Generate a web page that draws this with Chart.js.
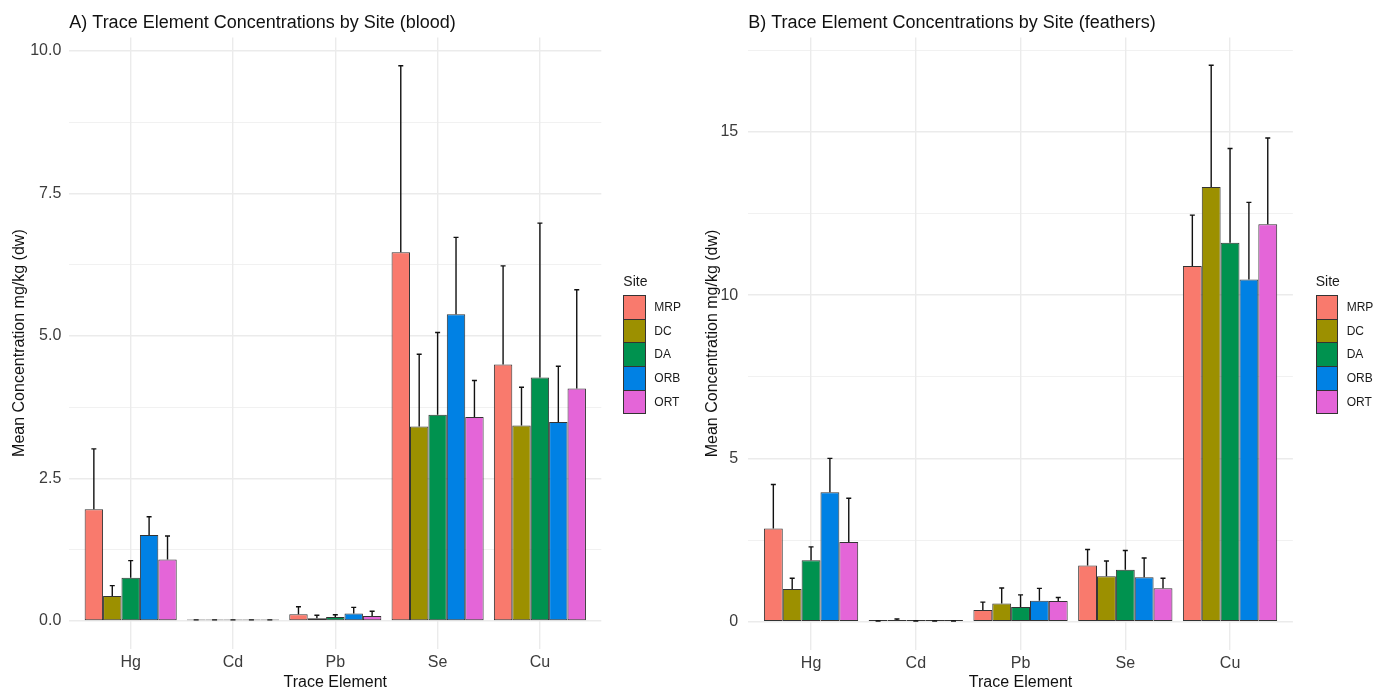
<!DOCTYPE html>
<html>
<head>
<meta charset="utf-8">
<script src="https://cdn.jsdelivr.net/npm/chart.js@4.4.1/dist/chart.umd.min.js"></script>
<style>
  html, body { margin: 0; padding: 0; background: #fff; }
  body { width: 1385px; height: 691px; position: relative; overflow: hidden; font-family: "Liberation Sans", Arial, sans-serif; }
  .panel { position: absolute; top: 0; height: 691px; }
  .legend-title { position: absolute; font-size: 14px; color: #1a1a1a; line-height: 16px; }
  .swatch { position: absolute; box-sizing: border-box; border: 1px solid #333; }
  .legend-label { position: absolute; font-size: 12px; color: #1a1a1a; line-height: 14px; }
</style>
</head>
<body>
<div class="panel" style="left:0;width:692px"><canvas id="blood"></canvas></div>
<div class="panel" style="left:692px;width:693px"><canvas id="feathers"></canvas></div>
<div id="legends"></div>
<script>
// ---- data ----
const elements = ["Hg", "Cd", "Pb", "Se", "Cu"];
const sites = ["MRP", "DC", "DA", "ORB", "ORT"];
const siteColors = ["#F97A6D", "#9C9000", "#00924F", "#0081E4", "#E465D8"];

// blood: mean per site, in element order
const bloodMRP = [1.96, 0.01, 0.12, 6.47, 4.50];
const bloodDC  = [0.44, 0.01, 0.05, 3.41, 3.43];
const bloodDA  = [0.76, 0.01, 0.07, 3.62, 4.27];
const bloodORB = [1.51, 0.01, 0.13, 5.38, 3.49];
const bloodORT = [1.08, 0.01, 0.09, 3.58, 4.08];
// blood: top of error bar
const bloodMRPErr = [3.02, 0.02, 0.25, 9.74, 6.23];
const bloodDCErr  = [0.62, 0.02, 0.10, 4.68, 4.10];
const bloodDAErr  = [1.06, 0.02, 0.11, 5.06, 6.98];
const bloodORBErr = [1.83, 0.02, 0.24, 6.73, 4.47];
const bloodORTErr = [1.49, 0.02, 0.17, 4.22, 5.81];

// feathers: mean per site
const featherMRP = [2.85, 0.01, 0.36, 1.72, 10.89];
const featherDC  = [1.00, 0.05, 0.56, 1.39, 13.31];
const featherDA  = [1.88, 0.01, 0.45, 1.59, 11.60];
const featherORB = [3.96, 0.01, 0.64, 1.36, 10.48];
const featherORT = [2.44, 0.01, 0.63, 1.02, 12.17];
// feathers: top of error bar
const featherMRPErr = [4.20, 0.02, 0.60, 2.21, 12.45];
const featherDCErr  = [1.33, 0.08, 1.03, 1.86, 17.04];
const featherDAErr  = [2.29, 0.02, 0.82, 2.18, 14.49];
const featherORBErr = [5.00, 0.02, 1.02, 1.95, 12.84];
const featherORTErr = [3.78, 0.02, 0.74, 1.33, 14.81];

// tick positions / labels (minor ticks get empty labels)
const bloodTicks = [0, 1.25, 2.5, 3.75, 5, 6.25, 7.5, 8.75, 10];
const bloodTickLabels = ["0.0", "", "2.5", "", "5.0", "", "7.5", "", "10.0"];
const featherTicks = [0, 2.5, 5, 7.5, 10, 12.5, 15, 17.5];
const featherTickLabels = ["0", "", "5", "", "10", "", "15", ""];

Chart.defaults.font.family = '"Liberation Sans", Arial, sans-serif';

// upper error bars, drawn from the bar top
const errorBars = {
  id: "errorBars",
  afterDatasetsDraw(chart) {
    const ctx = chart.ctx;
    const y = chart.scales.y;
    ctx.save();
    ctx.strokeStyle = "#111";
    ctx.lineWidth = 1.4;
    chart.data.datasets.forEach((ds, di) => {
      chart.getDatasetMeta(di).data.forEach((bar, i) => {
        const top = y.getPixelForValue(ds.errUpper[i]);
        ctx.beginPath();
        ctx.moveTo(bar.x, bar.y);
        ctx.lineTo(bar.x, top);
        ctx.moveTo(bar.x - 2.5, top);
        ctx.lineTo(bar.x + 2.5, top);
        ctx.stroke();
      });
    });
    ctx.restore();
  }
};

function makePanel(id, p) {
  const datasets = sites.map((s, k) => ({
    label: s,
    data: p.means[k].map((v, i) => ({ x: i + 1, y: v })),
    errUpper: p.errs[k],
    backgroundColor: siteColors[k],
    borderColor: "#333",
    borderWidth: 1,
    borderSkipped: false,
    minBarLength: 1.6,
    categoryPercentage: 0.9,
    barPercentage: 1.0
  }));

  return new Chart(document.getElementById(id), {
    type: "bar",
    data: { datasets },
    options: {
      responsive: true,
      maintainAspectRatio: false,
      animation: false,
      layout: { padding: { left: 0, right: p.padRight, top: 2, bottom: 0 } },
      plugins: {
        legend: { display: false },
        tooltip: { enabled: false },
        title: {
          display: true,
          text: p.title,
          align: "start",
          fullSize: false,
          color: "#111",
          font: { size: 18, weight: "normal" },
          padding: { top: 10.7, bottom: 3.1 }
        }
      },
      scales: {
        x: {
          type: "linear",
          min: 0.4,
          max: 5.6,
          offset: false,
          afterBuildTicks: (axis) => { axis.ticks = elements.map((e, i) => ({ value: i + 1 })); },
          afterFit: (axis) => { axis.height = p.xHeight; },
          ticks: {
            autoSkip: false,
            callback: (v, i) => elements[i],
            color: "#3c3c3c",
            font: { size: 16 },
            padding: 4,
            maxRotation: 0
          },
          grid: { color: "#EBEBEB", lineWidth: 1.4, drawTicks: false, offset: false },
          border: { display: false },
          title: {
            display: true,
            text: "Trace Element",
            color: "#111",
            font: { size: 16 },
            padding: { top: 0, bottom: -1.5 }
          }
        },
        y: {
          min: p.yMin,
          max: p.yMax,
          afterBuildTicks: (axis) => { axis.ticks = p.ticks.map(v => ({ value: v })); },
          afterFit: (axis) => { axis.width = p.yWidth; },
          ticks: {
            autoSkip: false,
            callback: (v, i) => p.tickLabels[i],
            color: "#3c3c3c",
            font: { size: 16 },
            padding: p.tickPad
          },
          grid: {
            color: "#EBEBEB",
            drawTicks: false,
            lineWidth: (c) => (p.tickLabels[c.index] ? 1.4 : 0.7)
          },
          border: { display: false },
          title: {
            display: true,
            text: "Mean Concentration mg/kg (dw)",
            color: "#111",
            font: { size: 16 },
            padding: { top: p.yTitlePad, bottom: 0 }
          }
        }
      }
    },
    plugins: [errorBars]
  });
}

makePanel("blood", {
  title: "A) Trace Element Concentrations by Site (blood)",
  means: [bloodMRP, bloodDC, bloodDA, bloodORB, bloodORT],
  errs: [bloodMRPErr, bloodDCErr, bloodDAErr, bloodORBErr, bloodORTErr],
  ticks: bloodTicks,
  tickLabels: bloodTickLabels,
  yMin: -0.4875,
  yMax: 10.2375,
  padRight: 90.7,
  yWidth: 69.3,
  xHeight: 42.2,
  tickPad: 8,
  yTitlePad: 10
});

makePanel("feathers", {
  title: "B) Trace Element Concentrations by Site (feathers)",
  means: [featherMRP, featherDC, featherDA, featherORB, featherORT],
  errs: [featherMRPErr, featherDCErr, featherDAErr, featherORBErr, featherORTErr],
  ticks: featherTicks,
  tickLabels: featherTickLabels,
  yMin: -0.852,
  yMax: 17.892,
  padRight: 693 - 600.9,
  yWidth: 56.2,
  xHeight: 41.5,
  tickPad: 10,
  yTitlePad: 11
});

// legends (ggplot style, keys stacked)
function makeLegend(left) {
  const box = document.getElementById("legends");
  const t = document.createElement("div");
  t.className = "legend-title";
  t.style.left = left + "px";
  t.style.top = "273px";
  t.textContent = "Site";
  box.appendChild(t);
  sites.forEach((s, k) => {
    const sw = document.createElement("div");
    sw.className = "swatch";
    sw.style.left = left + "px";
    sw.style.top = (295 + k * 23.7) + "px";
    sw.style.width = "22.6px";
    sw.style.height = "24.7px";
    sw.style.background = siteColors[k];
    box.appendChild(sw);
    const lb = document.createElement("div");
    lb.className = "legend-label";
    lb.style.left = (left + 31) + "px";
    lb.style.top = (295 + k * 23.7 + 5) + "px";
    lb.textContent = s;
    box.appendChild(lb);
  });
}
makeLegend(623.3);
makeLegend(1315.7);
</script>
</body>
</html>
